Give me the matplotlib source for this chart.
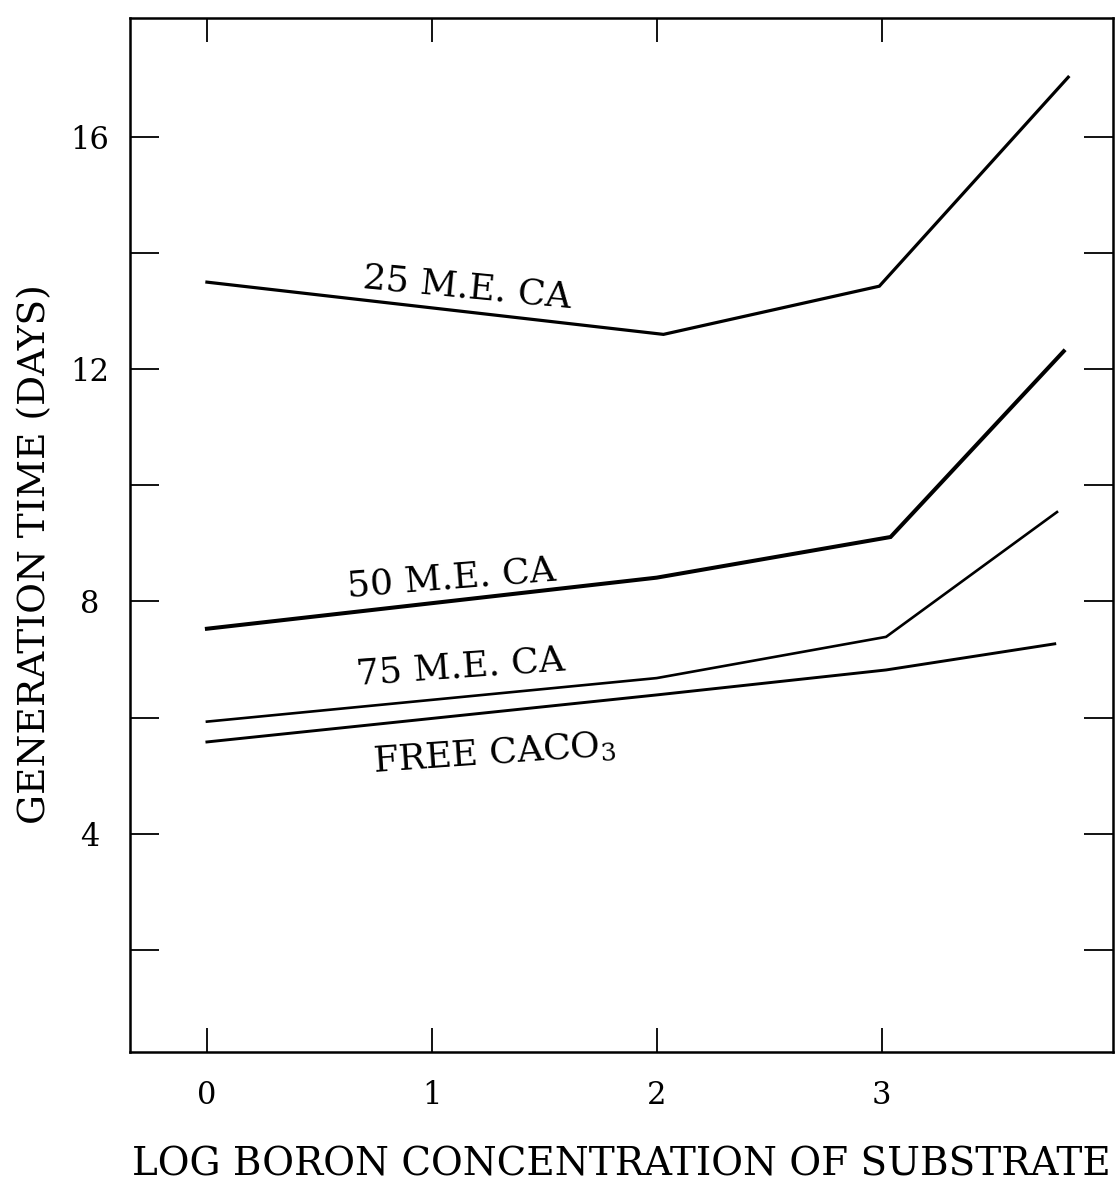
import matplotlib
matplotlib.use("Agg")
import matplotlib.pyplot as plt

plt.rcParams['font.family'] = ['DejaVu Serif']
plt.rcParams['mathtext.fontset'] = 'dejavuserif'

# data
x_me25 = [0.0, 2.03, 2.99, 3.83]
y_me25 = [13.5, 12.6, 13.43, 17.03]

x_me50 = [0.0, 2.0, 3.04, 3.81]
y_me50 = [7.53, 8.41, 9.11, 12.31]

x_me75 = [0.0, 2.0, 3.02, 3.78]
y_me75 = [5.93, 6.68, 7.39, 9.54]

x_free = [0.0, 2.0, 3.02, 3.77]
y_free = [5.58, 6.39, 6.82, 7.27]

xticks = [0, 1, 2, 3]
yticks_major = [4, 8, 12, 16]
yticks_minor = [2, 6, 10, 14]

fig = plt.figure(figsize=(11.16, 11.82), dpi=100)
ax = fig.add_axes([0.1165, 0.11, 0.881, 0.8748])

ax.plot(x_me25, y_me25, color='black', lw=2.3, solid_joinstyle='miter')
ax.plot(x_me50, y_me50, color='black', lw=2.9, solid_joinstyle='miter')
ax.plot(x_me75, y_me75, color='black', lw=1.9, solid_joinstyle='miter')
ax.plot(x_free, y_free, color='black', lw=2.1, solid_joinstyle='miter')

# curve labels
txt = dict(ha='center', va='center', rotation_mode='anchor', fontsize=26)
ax.text(1.156, 13.4, '25 M.E. CA', rotation=-5.5, **txt)
ax.text(1.089, 8.4, '50 M.E. CA', rotation=4.5, **txt)
ax.text(1.129, 6.86, '75 M.E. CA', rotation=4.0, **txt)
ax.text(1.28, 5.38, 'FREE CACO$_3$', rotation=4.0, **txt)

ax.set_xlim(-0.342, 4.03)
ax.set_ylim(0.24, 18.05)

ax.set_xticks(xticks)
ax.set_yticks(yticks_major)
ax.set_yticks(yticks_minor, minor=True)

ax.tick_params(axis='x', which='both', direction='in', length=17, width=1.3,
               top=True, bottom=True, labelsize=22, pad=20)
ax.tick_params(axis='y', which='both', direction='in', length=21, width=1.3,
               left=True, right=True, labelsize=22, pad=29)
for lab in ax.get_yticklabels():
    lab.set_horizontalalignment('center')

for s in ax.spines.values():
    s.set_linewidth(1.8)

ax.set_xlabel('LOG BORON CONCENTRATION OF SUBSTRATE', fontsize=28, va='center')
ax.xaxis.set_label_coords(0.5, -0.109)
ax.set_ylabel('GENERATION TIME (DAYS)', fontsize=27, va='center')
ax.yaxis.set_label_coords(-0.0966, 0.4816)

fig.savefig('out.png', dpi=100)
